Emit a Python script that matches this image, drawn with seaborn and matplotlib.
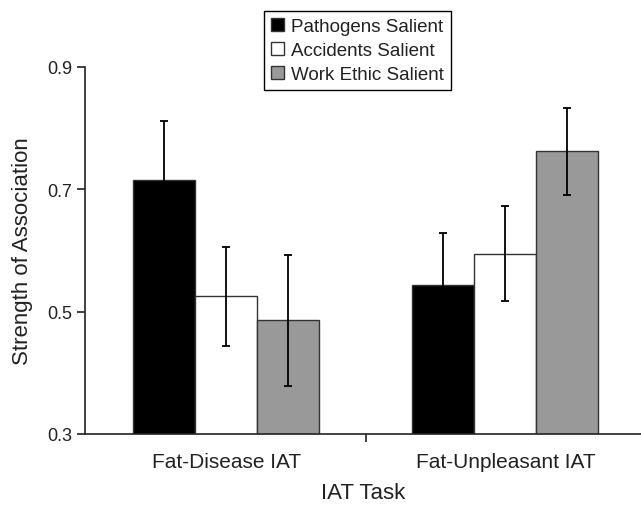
import matplotlib
matplotlib.use("Agg")
import matplotlib.pyplot as plt
import seaborn as sns
import pandas as pd
from matplotlib.ticker import FixedLocator
from matplotlib.container import BarContainer

tasks = ["Fat-Disease IAT", "Fat-Unpleasant IAT"]
conditions = ["Pathogens Salient", "Accidents Salient", "Work Ethic Salient"]
pathogens_mean = [0.715, 0.543]
accidents_mean = [0.525, 0.595]
workethic_mean = [0.486, 0.762]
pathogens_err = [0.096, 0.086]
accidents_err = [0.081, 0.077]
workethic_err = [0.107, 0.071]
y_ticks = [0.3, 0.5, 0.7, 0.9]
y_tick_labels = ["0.3", "0.5", "0.7", "0.9"]
colors = ["#000000", "#ffffff", "#999999"]

means = [pathogens_mean, accidents_mean, workethic_mean]
errs = [pathogens_err, accidents_err, workethic_err]

rows = []
for c, m in zip(conditions, means):
    for t, v in zip(tasks, m):
        rows.append({"task": t, "condition": c, "value": v})
df = pd.DataFrame(rows)

sns.set_style("ticks")
plt.rcParams["font.family"] = ["Liberation Sans", "DejaVu Sans"]

fig = plt.figure(figsize=(6.41, 5.06), dpi=100)
ax = fig.add_axes([85 / 641, 71 / 506, 556 / 641, 367 / 506])

sns.barplot(data=df, x="task", y="value", hue="condition", order=tasks,
            hue_order=conditions, palette=colors, saturation=1, width=0.667,
            gap=0, edgecolor="#333333", linewidth=1.0, errorbar=None, ax=ax)

bar_containers = [c for c in ax.containers if isinstance(c, BarContainer)]
for j, cont in enumerate(bar_containers):
    xs = [b.get_x() + b.get_width() / 2 for b in cont.patches]
    ax.errorbar(xs, means[j], yerr=errs[j], fmt="none", ecolor="#000000",
                elinewidth=1.3, capsize=3, capthick=1.3, zorder=5)

ax.set_xlim(-0.507, 1.486)
ax.set_ylim(0.3, 0.9)
ax.set_yticks(y_ticks)
ax.set_yticklabels(y_tick_labels, fontsize=13)
ax.tick_params(axis="y", length=6, width=1.2, pad=3, color="#222222", labelcolor="#222222")
ax.tick_params(axis="x", which="major", length=0, pad=13, labelsize=15, labelcolor="#222222")
ax.xaxis.set_minor_locator(FixedLocator([0.5]))
ax.tick_params(axis="x", which="minor", length=6, width=1.2, color="#222222")

for s in ["top", "right"]:
    ax.spines[s].set_visible(False)
for s in ["left", "bottom"]:
    ax.spines[s].set_linewidth(1.2)
    ax.spines[s].set_color("#222222")

ax.set_xlabel("IAT Task", fontsize=16, color="#222222", labelpad=8)
ax.set_ylabel("Strength of Association", fontsize=16, color="#222222", labelpad=10)

handles, labels = ax.get_legend_handles_labels()
leg = ax.legend(handles, labels, loc="upper center",
                bbox_to_anchor=(357.5 / 641, 1 - 12 / 506),
                bbox_transform=fig.transFigure, frameon=True, fancybox=False,
                edgecolor="black", framealpha=1, fontsize=13.5,
                handlelength=0.7, handleheight=0.7, handletextpad=0.35,
                labelspacing=0.36, borderpad=0.38, borderaxespad=0)
leg.get_frame().set_linewidth(1.0)
for t in leg.get_texts():
    t.set_color("#222222")

fig.savefig("out.png", dpi=100)
